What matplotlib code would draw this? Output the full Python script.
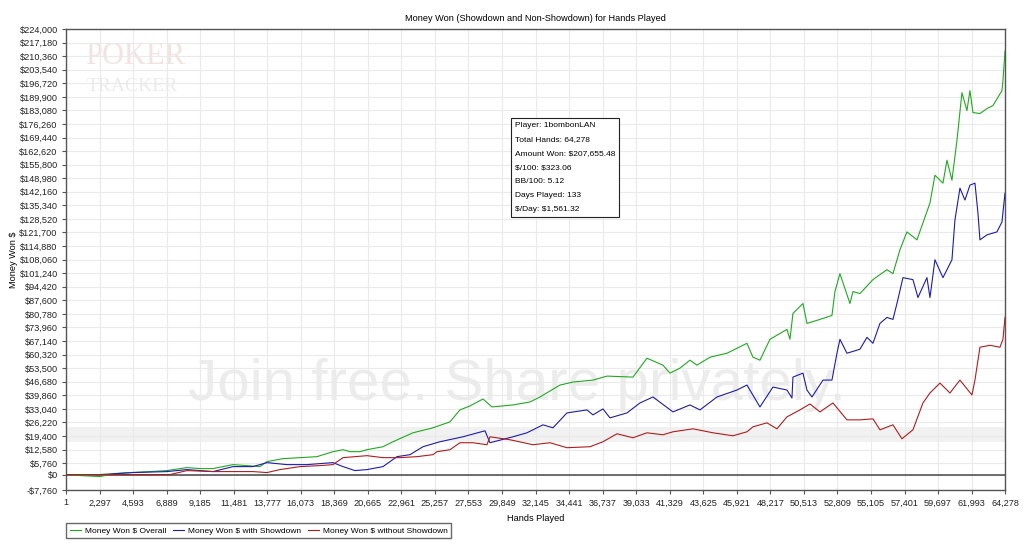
import matplotlib
matplotlib.use("Agg")
import matplotlib.pyplot as plt
from matplotlib.ticker import FuncFormatter

# values (hands played, dollars won)
overall_hands = [1, 958, 2327, 3354, 4381, 5750, 6913, 8282, 9172, 10062, 11431, 12390,
                 13279, 13758, 14854, 16017, 17181, 18276, 18961, 19440, 20124, 20603,
                 21699, 22383, 23752, 25121, 26285, 26969, 27654, 28544, 29160, 30597,
                 31761, 32445, 33814, 34704, 36073, 37031, 38811, 39769, 40865, 41344,
                 42028, 42713, 43192, 44082, 45245, 46614, 47025, 47504, 48189, 49352,
                 49558, 49763, 50447, 50721, 51611, 52432, 52638, 52980, 53664, 53870,
                 54349, 55239, 56197, 56608, 57087, 57566, 58251, 59141, 59483, 60031,
                 60304, 60647, 60989, 61331, 61673, 61879, 62084, 62563, 63043, 63454,
                 64070, 64138, 64278]
overall_won = [0, -500, -1000, 500, 1000, 1500, 2000, 3500, 3000, 3000, 5000, 4500,
               4000, 6500, 8000, 8500, 9000, 11500, 12500, 11500, 11500, 12500,
               14000, 16500, 21000, 23500, 26500, 32500, 34500, 38000, 34000, 35000,
               36500, 39000, 45000, 46500, 47500, 49500, 49000, 58500, 55000, 51000,
               53500, 57500, 55000, 59000, 61000, 66000, 59000, 57500, 68000, 73000,
               68000, 81000, 86000, 76000, 78000, 80000, 92000, 101000, 86000, 92000,
               91000, 98000, 103000, 101000, 113000, 122000, 118000, 136500, 150500, 146500,
               158000, 148000, 168000, 192000, 183000, 193000, 182000, 181500, 184000, 185500,
               193000, 198000, 213000]

sd_hands = [1, 2327, 4586, 6913, 8282, 10062, 11431, 12800, 13758, 15127, 16496, 18276,
            18961, 19782, 20603, 21699, 22657, 23547, 24437, 25600, 27175, 28681, 29023,
            30597, 31555, 32651, 33335, 34293, 35662, 36073, 36758, 37237, 38400, 39290,
            40180, 41549, 42713, 43397, 44561, 45930, 46614, 47504, 48394, 49352, 49695,
            49763, 50447, 50721, 51064, 51817, 52432, 52775, 52980, 53459, 54349, 54828,
            55239, 55718, 56197, 56608, 56882, 57293, 57977, 58319, 58935, 59141, 59483,
            60031, 60647, 60852, 61194, 61536, 61879, 62221, 62426, 62563, 63043, 63727,
            64070, 64278]
sd_won = [0, 0, 1000, 1500, 2500, 1500, 4000, 4000, 6000, 5000, 5000, 6000,
          4000, 2000, 2500, 4000, 9000, 10000, 14000, 16500, 19000, 22000, 16000,
          19000, 21000, 25000, 23500, 31000, 32500, 30000, 33000, 28500, 31000, 36000,
          39000, 31500, 35000, 32500, 39000, 42500, 45000, 34000, 44000, 42500, 38500,
          49000, 51000, 42500, 39000, 47500, 47500, 61000, 68000, 61000, 63000, 69000,
          66000, 76000, 79000, 78000, 86000, 99000, 98000, 89000, 99000, 89000, 108000,
          99000, 108000, 128000, 144000, 138000, 145500, 146500, 131500, 118000, 120500, 122000,
          127000, 141500]

nsd_hands = [1, 7119, 8282, 10062, 12800, 13758, 14648, 16017, 17386, 18276, 18961, 20603,
             21699, 22862, 24026, 25121, 25395, 26285, 26969, 27859, 28818, 29023, 30392,
             31966, 33130, 34293, 35868, 36758, 37716, 38811, 39769, 40865, 41549, 42918,
             44287, 45656, 46614, 47025, 47983, 48668, 49352, 50242, 50927, 51611, 52501,
             53459, 54349, 55239, 55718, 56608, 57224, 57977, 58661, 59141, 59825, 60510,
             61194, 62016, 62221, 62563, 63248, 63932, 64138, 64278]
nsd_won = [0, 0, 2000, 1500, 1500, 1000, 2500, 4000, 4500, 5000, 8500, 9500,
           8500, 8500, 9000, 10000, 11500, 12500, 16000, 16000, 15000, 19000, 17500,
           15000, 16000, 13500, 14000, 16500, 20500, 18500, 21000, 20000, 21500, 23000,
           21000, 19500, 21500, 24000, 26000, 23000, 29000, 32500, 35500, 31500, 36000,
           27500, 27500, 28000, 22500, 25000, 18000, 22500, 36000, 41000, 46000, 41000,
           47500, 40000, 47500, 64000, 65000, 64000, 68000, 79000]

x_ticks = [1, 2297, 4593, 6889, 9185, 11481, 13777, 16073, 18369, 20665, 22961, 25257,
           27553, 29849, 32145, 34441, 36737, 39033, 41329, 43625, 45921, 48217, 50513,
           52809, 55105, 57401, 59697, 61993, 64278]
y_ticks = [-7760, 0, 5760, 12580, 19400, 26220, 33040, 39860, 46680, 53500, 60320,
           67140, 73960, 80780, 87600, 94420, 101240, 108060, 114880, 121700, 128520,
           135340, 142160, 148980, 155800, 162620, 169440, 176260, 183080, 189900,
           196720, 203540, 210360, 217180, 224000]

stats_lines = ["Player: 1bombonLAN", "Total Hands: 64,278", "Amount Won: $207,655.48",
               "$/100: $323.06", "BB/100: 5.12", "Days Played: 133", "$/Day: $1,561.32"]

plt.rcParams["font.family"] = ["Liberation Sans", "DejaVu Sans"]
fig = plt.figure(figsize=(10.23, 5.54), dpi=100)
ax = fig.add_axes([66 / 1023, 1 - 490 / 554, 939 / 1023, 461 / 554])

# faint watermarks behind the data
ax.text(0.02, 0.925, "POKER", transform=ax.transAxes, fontsize=22, color="#f3e2e2",
        family="Liberation Serif", zorder=0)
ax.text(0.022, 0.865, "TRACKER", transform=ax.transAxes, fontsize=14, color="#ebebeb",
        family="Liberation Serif", zorder=0)
ax.text(0.48, 0.228, "Join free. Share privately.", transform=ax.transAxes, fontsize=42,
        color="#ececec", ha="center", va="center", zorder=0)
ax.axhspan(16500, 24000, color="#f1f1f1", zorder=0, lw=0)

ax.plot(overall_hands, overall_won, color="#1faa1f", lw=0.8, label="Money Won $ Overall", zorder=3)
ax.plot(sd_hands, sd_won, color="#1c1cb0", lw=0.8, label="Money Won $ with Showdown", zorder=3)
ax.plot(nsd_hands, nsd_won, color="#b01c1c", lw=0.8, label="Money Won $ without Showdown", zorder=3)
ax.axhline(0, color="#555555", lw=1.2, zorder=2)

ax.set_xlim(1, 64278)
ax.set_ylim(-7760, 224000)
ax.set_xticks(x_ticks)
ax.set_yticks(y_ticks)
ax.xaxis.set_major_formatter(FuncFormatter(lambda v, p: f"{int(round(v)):,}"))
ax.yaxis.set_major_formatter(FuncFormatter(
    lambda v, p: ("-$" if v < 0 else "$") + f"{abs(int(round(v))):,}"))
ax.tick_params(labelsize=6.6, length=3, color="#555555", labelcolor="#222222", pad=3)
ax.grid(True, color="#eaeaea", lw=0.8, zorder=1)
ax.set_axisbelow(True)
for s in ax.spines.values():
    s.set_color("#555555")
    s.set_linewidth(1)

ax.set_title("Money Won (Showdown and Non-Showdown) for Hands Played", fontsize=6.6, pad=6)
ax.set_xlabel("Hands Played", fontsize=6.6, labelpad=5)
ax.set_ylabel("Money Won $", fontsize=6.6)
ax.yaxis.set_label_coords(-0.051, 0.5)

fig.text(515 / 1023, 1 - 122 / 554, "\n".join(stats_lines), fontsize=6.0, va="top", ha="left",
         linespacing=2.4, parse_math=False,
         bbox=dict(boxstyle="square,pad=0.45", facecolor="white", edgecolor="#222222", lw=0.8))

leg = fig.legend(loc="upper left", bbox_to_anchor=(66 / 1023, 1 - 523 / 554), ncol=3,
                 fontsize=6.0, frameon=True, fancybox=False, edgecolor="#444444",
                 handlelength=1.4, handletextpad=0.4, columnspacing=0.8,
                 borderpad=0.45, borderaxespad=0)
leg.get_frame().set_linewidth(1)

fig.savefig("out.png", dpi=100)
